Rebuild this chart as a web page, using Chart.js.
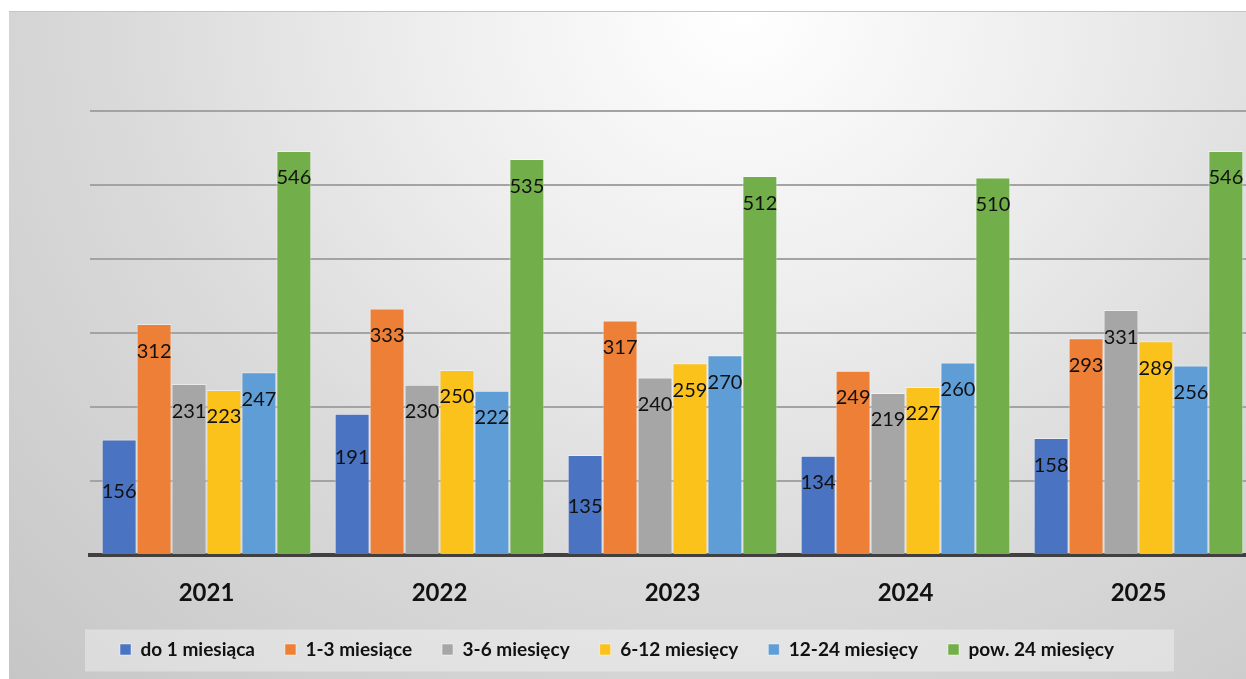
<!DOCTYPE html>
<html>
<head>
<meta charset="utf-8">
<script src="https://cdn.jsdelivr.net/npm/chart.js@4"></script>
<style>
  html, body { margin: 0; padding: 0; background: #fff; overflow: hidden; }
  #wrap {
    position: absolute; left: 9px; top: 11px; width: 1262px; height: 668px;
    border-top: 1px solid #c4c4c4;
    background: radial-gradient(ellipse farthest-corner at 58% 0%, #ffffff 0%, #eeeeee 30%, #dadada 60%, #c6c6c6 100%);
  }
</style>
</head>
<body>
<div id="wrap"><canvas id="chart"></canvas></div>
<script>
// lata
const years = ['2021', '2022', '2023', '2024', '2025'];

// okresy bezrobocia
const doMiesiaca = [156, 191, 135, 134, 158];
const od1do3 = [312, 333, 317, 249, 293];
const od3do6 = [231, 230, 240, 219, 331];
const od6do12 = [223, 250, 259, 227, 289];
const od12do24 = [247, 222, 270, 260, 256];
const pow24 = [546, 535, 512, 510, 546];

const seriesNames = ['do 1 miesiąca', '1-3 miesiące', '3-6 miesięcy', '6-12 miesięcy', '12-24 miesięcy', 'pow. 24 miesięcy'];
const seriesColors = ['#4a73c2', '#ed7f36', '#a6a6a6', '#fcc21c', '#5f9dd6', '#72ae4a'];

// niektóre etykiety pierwszej serii leżą niżej w oryginale
const labelShift = [[25, 17, 24, 0, 0]];

const allSeries = [doMiesiaca, od1do3, od3do6, od6do12, od12do24, pow24];

// etykiety wartości wewnątrz słupków
const valueLabels = {
    id: 'valueLabels',
    afterDatasetsDraw(chart) {
        const ctx = chart.ctx;
        ctx.save();
        ctx.font = '20px Lato';
        ctx.fillStyle = '#111';
        ctx.textAlign = 'center';
        ctx.textBaseline = 'middle';
        chart.data.datasets.forEach((ds, di) => {
            chart.getDatasetMeta(di).data.forEach((bar, i) => {
                const shift = (labelShift[di] && labelShift[di][i]) || 0;
                ctx.fillText(ds.data[i], bar.x, bar.y + 27 + shift);
            });
        });
        ctx.restore();
    }
};

// jasne tło pod legendą
const legendBox = {
    id: 'legendBox',
    beforeDraw(chart) {
        const hb = chart.legend.legendHitBoxes;
        if (!hb || !hb.length) return;
        const first = hb[0], last = hb[hb.length - 1];
        const cy = first.top + first.height / 2;
        const ctx = chart.ctx;
        ctx.save();
        ctx.fillStyle = 'rgba(255,255,255,0.35)';
        ctx.fillRect(first.left - 35, cy - 20, last.left + last.width + 60 - (first.left - 35), 42);
        ctx.restore();
    }
};

const ctx = document.getElementById('chart').getContext('2d');
new Chart(ctx, {
    type: 'bar',
    data: {
        labels: years,
        datasets: allSeries.map((d, i) => ({
            label: seriesNames[i],
            data: d,
            backgroundColor: seriesColors[i],
            borderColor: 'rgba(255,255,255,0.45)',
            borderWidth: 1,
            categoryPercentage: 0.9,
            barPercentage: 1.0
        }))
    },
    options: {
        responsive: true,
        maintainAspectRatio: false,
        animation: false,
        layout: { padding: { left: 81, right: 16, top: 99, bottom: 11 } },
        plugins: {
            legend: {
                position: 'bottom',
                align: 'start',
                labels: {
                    boxWidth: 11,
                    boxHeight: 11,
                    padding: 30,
                    color: '#111',
                    font: { family: 'Lato', size: 19, weight: 'bold' }
                }
            },
            tooltip: { enabled: false }
        },
        scales: {
            x: {
                grid: { display: false, drawTicks: false },
                border: { display: true, color: '#404040', width: 4 },
                ticks: {
                    color: '#111',
                    padding: 24,
                    font: { family: 'Lato', size: 24, weight: 'bold' }
                },
                afterFit(scale) { scale.height = 55; }
            },
            y: {
                min: 0,
                max: 600,
                ticks: { display: false, stepSize: 100 },
                grid: { color: '#a3a3a3', lineWidth: 2, drawTicks: false },
                border: { display: false }
            }
        }
    },
    plugins: [legendBox, valueLabels]
});
</script>
</body>
</html>
